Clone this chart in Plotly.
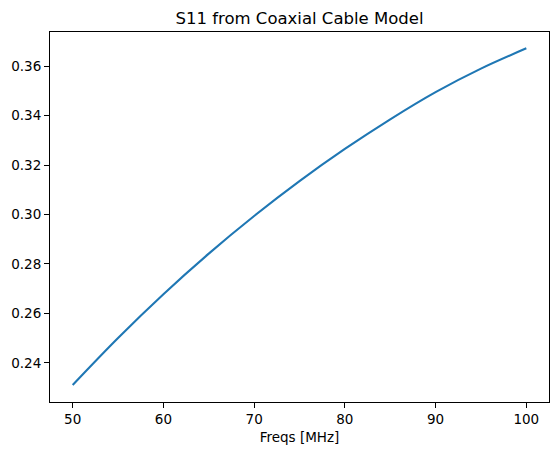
import plotly.graph_objects as go

freqs_mhz = [50, 55, 60, 65, 70, 75, 80, 85, 90, 95, 100]
s11 = [0.2311, 0.2501, 0.2678, 0.2842, 0.2994, 0.3135, 0.3265, 0.3385, 0.3495, 0.3590, 0.3672]

title_text = "S11 from Coaxial Cable Model"
xlabel = "Freqs [MHz]"
xticks = [50, 60, 70, 80, 90, 100]
yticks = [0.24, 0.26, 0.28, 0.30, 0.32, 0.34, 0.36]

fig = go.Figure()
fig.add_trace(go.Scatter(x=freqs_mhz, y=s11, mode="lines",
                         line=dict(color="#1f77b4", width=2.1, shape="spline"),
                         showlegend=False))

font = "DejaVu Sans"
axis_common = dict(showline=True, linecolor="black", linewidth=1.1, mirror=True,
                   ticks="outside", ticklen=5, tickwidth=1.1, tickcolor="black",
                   showgrid=False, zeroline=False,
                   tickfont=dict(family=font, size=13.5, color="black"))

fig.update_layout(
    width=556, height=455,
    margin=dict(l=50, r=7, t=32, b=53),
    paper_bgcolor="white", plot_bgcolor="white",
    title=dict(text=title_text, x=0.5, xref="paper", y=1 - 18 / 455, yanchor="middle",
               font=dict(family=font, size=16.5, color="black")),
    xaxis=dict(range=[47.5, 102.5], tickvals=xticks, ticktext=[str(v) for v in xticks],
               title=dict(text=xlabel, standoff=6, font=dict(family=font, size=13.5, color="black")),
               **axis_common),
    yaxis=dict(range=[0.2242, 0.3738], tickvals=yticks, ticktext=[f"{v:.2f}" for v in yticks],
               **axis_common),
)

fig.write_html("out.html", config={"displayModeBar": False})

# remove the browser's default body margin so the figure sits at the page origin
with open("out.html", "r", encoding="utf-8") as f:
    html = f.read()
html = html.replace("<body>", '<body style="margin:0;padding:0;overflow:hidden">', 1)
with open("out.html", "w", encoding="utf-8") as f:
    f.write(html)
